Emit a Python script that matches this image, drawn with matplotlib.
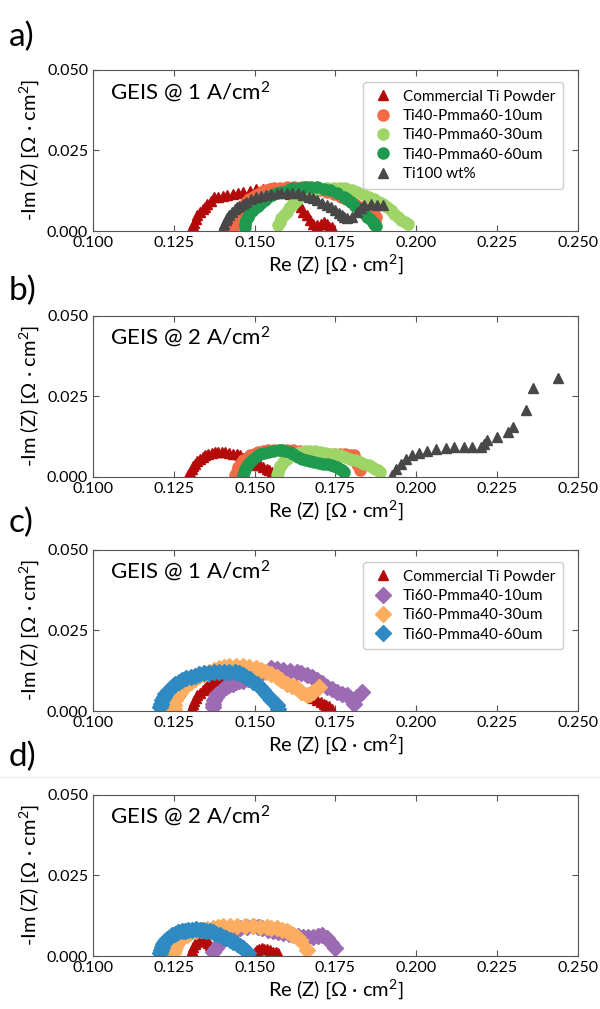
import matplotlib
matplotlib.use("Agg")
import matplotlib.pyplot as plt
from matplotlib.lines import Line2D

plt.rcParams['font.family'] = ['Lato', 'DejaVu Sans']
plt.rcParams['mathtext.fontset'] = 'custom'
plt.rcParams['mathtext.rm'] = 'Lato'
plt.rcParams['mathtext.it'] = 'Lato'

# ---- panel a: GEIS @ 1 A/cm2, Ti40-Pmma60 series ----
a_com_x = [0.1302, 0.1308, 0.1313, 0.1318, 0.1323, 0.1330, 0.1339, 0.1346, 0.1354, 0.1364, 0.1375, 0.1388,
           0.1401, 0.1416, 0.1432, 0.1448, 0.1464, 0.1485, 0.1505, 0.1527, 0.1547, 0.1568, 0.1590, 0.1610,
           0.1630, 0.1645, 0.1651, 0.1661, 0.1672, 0.1682, 0.1693, 0.1704, 0.1714, 0.1724, 0.1730, 0.1740]
a_com_y = [0.0007, 0.0016, 0.0026, 0.0038, 0.0049, 0.0058, 0.0068, 0.0076, 0.0083, 0.0094, 0.0104, 0.0107,
           0.0110, 0.0113, 0.0115, 0.0118, 0.0120, 0.0125, 0.0130, 0.0131, 0.0132, 0.0130, 0.0125, 0.0115,
           0.0100, 0.0075, 0.0059, 0.0049, 0.0033, 0.0023, 0.0018, 0.0022, 0.0028, 0.0023, 0.0013, 0.0013]
a_10_x = [0.1432, 0.1435, 0.1438, 0.1441, 0.1445, 0.1451, 0.1458, 0.1466, 0.1474, 0.1484, 0.1495, 0.1505,
          0.1516, 0.1526, 0.1536, 0.1548, 0.1560, 0.1580, 0.1600, 0.1623, 0.1646, 0.1663, 0.1680, 0.1702,
          0.1724, 0.1745, 0.1766, 0.1782, 0.1797, 0.1812, 0.1828, 0.1844, 0.1860, 0.1868, 0.1875, 0.1872, 0.1870]
a_10_y = [0.0007, 0.0018, 0.0028, 0.0038, 0.0049, 0.0060, 0.0070, 0.0081, 0.0091, 0.0099, 0.0106, 0.0113,
          0.0119, 0.0123, 0.0127, 0.0130, 0.0132, 0.0134, 0.0136, 0.0137, 0.0138, 0.0135, 0.0132, 0.0127,
          0.0122, 0.0114, 0.0106, 0.0099, 0.0091, 0.0083, 0.0075, 0.0067, 0.0059, 0.0052, 0.0044, 0.0034, 0.0023]
a_30_x = [0.1573, 0.1578, 0.1583, 0.1591, 0.1599, 0.1607, 0.1615, 0.1623, 0.1630, 0.1638, 0.1646, 0.1659,
          0.1672, 0.1688, 0.1703, 0.1724, 0.1745, 0.1763, 0.1781, 0.1800, 0.1818, 0.1836, 0.1854, 0.1870,
          0.1885, 0.1898, 0.1911, 0.1922, 0.1932, 0.1943, 0.1953, 0.1964, 0.1974]
a_30_y = [0.0018, 0.0029, 0.0039, 0.0049, 0.0059, 0.0070, 0.0080, 0.0088, 0.0096, 0.0104, 0.0111, 0.0117,
          0.0122, 0.0127, 0.0132, 0.0133, 0.0132, 0.0133, 0.0132, 0.0127, 0.0122, 0.0114, 0.0106, 0.0099,
          0.0091, 0.0083, 0.0075, 0.0065, 0.0054, 0.0044, 0.0035, 0.0028, 0.0021]
a_60_x = [0.1469, 0.1471, 0.1474, 0.1479, 0.1484, 0.1492, 0.1500, 0.1510, 0.1521, 0.1531, 0.1542, 0.1555,
          0.1568, 0.1583, 0.1599, 0.1610, 0.1620, 0.1638, 0.1656, 0.1675, 0.1693, 0.1714, 0.1734, 0.1755,
          0.1776, 0.1787, 0.1797, 0.1812, 0.1828, 0.1839, 0.1849, 0.1857, 0.1865, 0.1870, 0.1875]
a_60_y = [0.0013, 0.0023, 0.0033, 0.0043, 0.0052, 0.0061, 0.0070, 0.0079, 0.0088, 0.0096, 0.0104, 0.0111,
          0.0117, 0.0121, 0.0125, 0.0129, 0.0132, 0.0134, 0.0135, 0.0135, 0.0135, 0.0131, 0.0127, 0.0117,
          0.0106, 0.0099, 0.0091, 0.0078, 0.0065, 0.0055, 0.0044, 0.0036, 0.0028, 0.0022, 0.0016]
a_ti_x = [0.1401, 0.1405, 0.1410, 0.1416, 0.1422, 0.1430, 0.1438, 0.1445, 0.1453, 0.1463, 0.1474, 0.1490,
          0.1505, 0.1520, 0.1536, 0.1552, 0.1568, 0.1583, 0.1599, 0.1617, 0.1635, 0.1651, 0.1667, 0.1680,
          0.1693, 0.1708, 0.1724, 0.1737, 0.1750, 0.1760, 0.1770, 0.1778, 0.1786, 0.1802, 0.1818, 0.1829,
          0.1839, 0.1860, 0.1880, 0.1896]
a_ti_y = [0.0013, 0.0023, 0.0033, 0.0041, 0.0049, 0.0058, 0.0067, 0.0073, 0.0078, 0.0085, 0.0091, 0.0098,
          0.0104, 0.0108, 0.0111, 0.0114, 0.0117, 0.0118, 0.0119, 0.0119, 0.0119, 0.0113, 0.0106, 0.0101,
          0.0096, 0.0088, 0.0080, 0.0073, 0.0065, 0.0057, 0.0049, 0.0044, 0.0039, 0.0044, 0.0059, 0.0070,
          0.0080, 0.0085, 0.0080, 0.0080]

# ---- panel b: GEIS @ 2 A/cm2, Ti40-Pmma60 series ----
b_com_x = [0.1295, 0.1300, 0.1305, 0.1310, 0.1316, 0.1323, 0.1331, 0.1339, 0.1347, 0.1357, 0.1367, 0.1378,
           0.1388, 0.1398, 0.1409, 0.1421, 0.1434, 0.1445, 0.1455, 0.1465, 0.1475, 0.1488, 0.1500, 0.1508,
           0.1517, 0.1527, 0.1538, 0.1546, 0.1553]
b_com_y = [0.0005, 0.0016, 0.0026, 0.0034, 0.0041, 0.0049, 0.0057, 0.0062, 0.0067, 0.0071, 0.0074, 0.0076,
           0.0077, 0.0077, 0.0077, 0.0075, 0.0072, 0.0070, 0.0067, 0.0060, 0.0052, 0.0046, 0.0040, 0.0038,
           0.0036, 0.0031, 0.0026, 0.0020, 0.0015]
b_10_x = [0.1440, 0.1445, 0.1450, 0.1457, 0.1465, 0.1475, 0.1486, 0.1499, 0.1512, 0.1527, 0.1543, 0.1561,
          0.1579, 0.1600, 0.1620, 0.1641, 0.1662, 0.1683, 0.1703, 0.1724, 0.1745, 0.1763, 0.1781, 0.1794,
          0.1807, 0.1812, 0.1817, 0.1822, 0.1827]
b_10_y = [0.0005, 0.0018, 0.0031, 0.0042, 0.0052, 0.0060, 0.0067, 0.0072, 0.0077, 0.0080, 0.0083, 0.0084,
          0.0085, 0.0084, 0.0083, 0.0080, 0.0077, 0.0074, 0.0072, 0.0071, 0.0070, 0.0070, 0.0070, 0.0069,
          0.0067, 0.0054, 0.0041, 0.0031, 0.0021]
b_30_x = [0.1569, 0.1571, 0.1574, 0.1579, 0.1584, 0.1592, 0.1600, 0.1610, 0.1620, 0.1633, 0.1646, 0.1659,
          0.1672, 0.1688, 0.1703, 0.1719, 0.1734, 0.1750, 0.1765, 0.1781, 0.1796, 0.1812, 0.1827, 0.1840,
          0.1853, 0.1864, 0.1874, 0.1882, 0.1889]
b_30_y = [0.0005, 0.0016, 0.0026, 0.0034, 0.0041, 0.0049, 0.0057, 0.0064, 0.0070, 0.0074, 0.0077, 0.0079,
          0.0081, 0.0079, 0.0077, 0.0075, 0.0072, 0.0070, 0.0067, 0.0062, 0.0057, 0.0052, 0.0046, 0.0041,
          0.0036, 0.0031, 0.0026, 0.0021, 0.0015]
b_60_x = [0.1465, 0.1467, 0.1470, 0.1475, 0.1481, 0.1488, 0.1496, 0.1506, 0.1517, 0.1530, 0.1543, 0.1558,
          0.1574, 0.1585, 0.1595, 0.1608, 0.1620, 0.1633, 0.1646, 0.1659, 0.1672, 0.1685, 0.1698, 0.1711,
          0.1724, 0.1735, 0.1745, 0.1755, 0.1765, 0.1771, 0.1776]
b_60_y = [0.0005, 0.0016, 0.0026, 0.0034, 0.0041, 0.0049, 0.0057, 0.0064, 0.0070, 0.0074, 0.0077, 0.0080,
          0.0083, 0.0082, 0.0081, 0.0076, 0.0070, 0.0063, 0.0057, 0.0053, 0.0050, 0.0046, 0.0043, 0.0041,
          0.0039, 0.0036, 0.0033, 0.0030, 0.0026, 0.0020, 0.0015]
b_ti_x = [0.1926, 0.1936, 0.1952, 0.1967, 0.1988, 0.2008, 0.2034, 0.2060, 0.2091, 0.2117, 0.2148,
          0.2174, 0.2200, 0.2210, 0.2220, 0.2251, 0.2283, 0.2298, 0.2340, 0.2360, 0.2440]
b_ti_y = [0.0005, 0.0026, 0.0041, 0.0057, 0.0067, 0.0074, 0.0081, 0.0087, 0.0091, 0.0093, 0.0093,
          0.0093, 0.0093, 0.0101, 0.0116, 0.0124, 0.0139, 0.0155, 0.0207, 0.0274, 0.0308]

# ---- panel c: GEIS @ 1 A/cm2, Ti60-Pmma40 series ----
c_com_x = [0.1307, 0.1310, 0.1313, 0.1318, 0.1323, 0.1331, 0.1339, 0.1346, 0.1354, 0.1364, 0.1375, 0.1385,
           0.1396, 0.1408, 0.1420, 0.1590, 0.1600, 0.1610, 0.1620, 0.1628, 0.1635, 0.1643, 0.1651, 0.1659,
           0.1667, 0.1680, 0.1693, 0.1704, 0.1714, 0.1722, 0.1729, 0.1740]
c_com_y = [0.0013, 0.0022, 0.0031, 0.0040, 0.0049, 0.0057, 0.0065, 0.0072, 0.0078, 0.0085, 0.0091, 0.0095,
           0.0098, 0.0099, 0.0100, 0.0100, 0.0095, 0.0090, 0.0085, 0.0080, 0.0075, 0.0067, 0.0059, 0.0054,
           0.0049, 0.0041, 0.0033, 0.0028, 0.0023, 0.0019, 0.0015, 0.0007]
c_10_x = [0.1370, 0.1372, 0.1375, 0.1380, 0.1385, 0.1393, 0.1401, 0.1411, 0.1422, 0.1432, 0.1443, 0.1453,
          0.1464, 0.1480, 0.1500, 0.1525, 0.1552, 0.1570, 0.1589, 0.1610, 0.1630, 0.1645, 0.1661, 0.1677,
          0.1693, 0.1708, 0.1724, 0.1740, 0.1755, 0.1770, 0.1786, 0.1794, 0.1802, 0.1807, 0.1818, 0.1833]
c_10_y = [0.0013, 0.0023, 0.0033, 0.0043, 0.0052, 0.0060, 0.0068, 0.0074, 0.0080, 0.0085, 0.0089, 0.0092,
          0.0094, 0.0100, 0.0110, 0.0122, 0.0132, 0.0130, 0.0127, 0.0125, 0.0122, 0.0117, 0.0111, 0.0104,
          0.0096, 0.0086, 0.0075, 0.0067, 0.0059, 0.0054, 0.0049, 0.0041, 0.0033, 0.0023, 0.0044, 0.0059]
c_30_x = [0.1250, 0.1252, 0.1255, 0.1260, 0.1266, 0.1273, 0.1281, 0.1291, 0.1302, 0.1315, 0.1328, 0.1343,
          0.1359, 0.1375, 0.1391, 0.1406, 0.1422, 0.1443, 0.1464, 0.1484, 0.1505, 0.1520, 0.1536, 0.1552,
          0.1568, 0.1583, 0.1599, 0.1615, 0.1630, 0.1645, 0.1661, 0.1672, 0.1682, 0.1698]
c_30_y = [0.0007, 0.0020, 0.0033, 0.0044, 0.0054, 0.0064, 0.0073, 0.0082, 0.0091, 0.0100, 0.0108, 0.0115,
          0.0122, 0.0127, 0.0132, 0.0135, 0.0138, 0.0139, 0.0140, 0.0136, 0.0132, 0.0127, 0.0122, 0.0114,
          0.0106, 0.0096, 0.0085, 0.0078, 0.0070, 0.0060, 0.0049, 0.0054, 0.0059, 0.0075]
c_60_x = [0.1208, 0.1210, 0.1214, 0.1219, 0.1224, 0.1232, 0.1240, 0.1247, 0.1255, 0.1265, 0.1276, 0.1289,
          0.1302, 0.1315, 0.1328, 0.1343, 0.1359, 0.1375, 0.1391, 0.1406, 0.1422, 0.1438, 0.1453, 0.1464,
          0.1474, 0.1485, 0.1495, 0.1506, 0.1516, 0.1526, 0.1536, 0.1544, 0.1552, 0.1560, 0.1568, 0.1573]
c_60_y = [0.0013, 0.0023, 0.0033, 0.0043, 0.0052, 0.0061, 0.0070, 0.0077, 0.0083, 0.0090, 0.0096, 0.0101,
          0.0106, 0.0110, 0.0114, 0.0117, 0.0119, 0.0121, 0.0122, 0.0122, 0.0122, 0.0120, 0.0117, 0.0112,
          0.0106, 0.0099, 0.0091, 0.0083, 0.0075, 0.0065, 0.0054, 0.0045, 0.0035, 0.0027, 0.0018, 0.0007]

# ---- panel d: GEIS @ 2 A/cm2, Ti60-Pmma40 series ----
d_com_x = [0.1305, 0.1307, 0.1310, 0.1315, 0.1320, 0.1327, 0.1335, 0.1343, 0.1350, 0.1356, 0.1362, 0.1366,
           0.1370, 0.1500, 0.1506, 0.1514, 0.1522, 0.1530, 0.1537, 0.1548, 0.1558, 0.1566, 0.1573]
d_com_y = [0.0008, 0.0018, 0.0029, 0.0036, 0.0042, 0.0045, 0.0047, 0.0046, 0.0045, 0.0040, 0.0035, 0.0028,
           0.0020, 0.0012, 0.0019, 0.0022, 0.0024, 0.0023, 0.0021, 0.0018, 0.0014, 0.0011, 0.0008]
d_10_x = [0.1372, 0.1380, 0.1390, 0.1400, 0.1415, 0.1430, 0.1443, 0.1455, 0.1475, 0.1496, 0.1509, 0.1522,
          0.1540, 0.1558, 0.1573, 0.1589, 0.1605, 0.1620, 0.1635, 0.1651, 0.1666, 0.1682, 0.1695, 0.1708,
          0.1723, 0.1736, 0.1749]
d_10_y = [0.0014, 0.0026, 0.0038, 0.0050, 0.0063, 0.0075, 0.0081, 0.0086, 0.0089, 0.0092, 0.0089, 0.0086,
          0.0082, 0.0079, 0.0075, 0.0071, 0.0068, 0.0066, 0.0063, 0.0060, 0.0060, 0.0060, 0.0063, 0.0066,
          0.0055, 0.0040, 0.0024]
d_30_x = [0.1248, 0.1250, 0.1253, 0.1258, 0.1263, 0.1271, 0.1279, 0.1290, 0.1300, 0.1318, 0.1335, 0.1354,
          0.1372, 0.1388, 0.1403, 0.1424, 0.1444, 0.1470, 0.1496, 0.1516, 0.1537, 0.1552, 0.1568, 0.1584,
          0.1599, 0.1610, 0.1620, 0.1631, 0.1641, 0.1661]
d_30_y = [0.0008, 0.0018, 0.0029, 0.0037, 0.0045, 0.0053, 0.0060, 0.0066, 0.0071, 0.0076, 0.0080, 0.0083,
          0.0086, 0.0089, 0.0092, 0.0093, 0.0094, 0.0093, 0.0092, 0.0091, 0.0090, 0.0088, 0.0086, 0.0081,
          0.0076, 0.0071, 0.0066, 0.0058, 0.0050, 0.0019]
d_60_x = [0.1207, 0.1209, 0.1212, 0.1217, 0.1222, 0.1230, 0.1238, 0.1245, 0.1253, 0.1263, 0.1274, 0.1284,
          0.1294, 0.1307, 0.1320, 0.1330, 0.1341, 0.1351, 0.1362, 0.1372, 0.1382, 0.1392, 0.1403, 0.1413,
          0.1424, 0.1434, 0.1444, 0.1455, 0.1465, 0.1472, 0.1480]
d_60_y = [0.0008, 0.0018, 0.0029, 0.0038, 0.0048, 0.0054, 0.0060, 0.0065, 0.0069, 0.0073, 0.0076, 0.0079,
          0.0081, 0.0082, 0.0083, 0.0082, 0.0081, 0.0079, 0.0076, 0.0073, 0.0069, 0.0065, 0.0060, 0.0055,
          0.0050, 0.0044, 0.0038, 0.0031, 0.0024, 0.0017, 0.0010]

labels_a = ['Commercial Ti Powder', 'Ti40-Pmma60-10um', 'Ti40-Pmma60-30um', 'Ti40-Pmma60-60um', 'Ti100 wt%']
labels_c = ['Commercial Ti Powder', 'Ti60-Pmma40-10um', 'Ti60-Pmma40-30um', 'Ti60-Pmma40-60um']
colors_a = ['#b50a0a', '#f26b45', '#9fd466', '#1e9a4e', '#484848']
markers_a = ['^', 'o', 'o', 'o', '^']
colors_c = ['#b50a0a', '#9c6bb3', '#fdad5f', '#2f8ac4']
markers_c = ['^', 'D', 'D', 'D']
msize = {'^': 7.5, 'o': 8, 'D': 8}

panels = [
    ('a)', 'GEIS @ 1 A/cm$^2$', [(a_com_x, a_com_y), (a_10_x, a_10_y), (a_30_x, a_30_y), (a_60_x, a_60_y), (a_ti_x, a_ti_y)],
     labels_a, colors_a, markers_a, True),
    ('b)', 'GEIS @ 2 A/cm$^2$', [(b_com_x, b_com_y), (b_10_x, b_10_y), (b_30_x, b_30_y), (b_60_x, b_60_y), (b_ti_x, b_ti_y)],
     labels_a, colors_a, markers_a, False),
    ('c)', 'GEIS @ 1 A/cm$^2$', [(c_com_x, c_com_y), (c_10_x, c_10_y), (c_30_x, c_30_y), (c_60_x, c_60_y)],
     labels_c, colors_c, markers_c, True),
    ('d)', 'GEIS @ 2 A/cm$^2$', [(d_com_x, d_com_y), (d_10_x, d_10_y), (d_30_x, d_30_y), (d_60_x, d_60_y)],
     labels_c, colors_c, markers_c, False),
]

fig = plt.figure(figsize=(6, 10.09), dpi=100)
bottoms = [0.771, 0.5273, 0.2953, 0.0525]
letter_y = [0.963, 0.712, 0.482, 0.250]

# faint seam line above panel d
fig.add_artist(Line2D([0, 1], [0.2300, 0.2300], transform=fig.transFigure, color='#ececec', lw=1))

for (letter, title, series, labels, colors, markers, show_leg), b, ly in zip(panels, bottoms, letter_y):
    ax = fig.add_axes([0.155, b, 0.808, 0.16])
    for (x, y), lab, c, m in zip(series, labels, colors, markers):
        ax.plot(x, y, linestyle='none', marker=m, color=c, markersize=msize[m], label=lab)
    ax.set_xlim(0.1, 0.25)
    ax.set_ylim(0.0, 0.05)
    ax.set_xticks([0.100, 0.125, 0.150, 0.175, 0.200, 0.225, 0.250])
    ax.set_yticks([0.000, 0.025, 0.050])
    ax.xaxis.set_major_formatter(matplotlib.ticker.FormatStrFormatter('%.3f'))
    ax.yaxis.set_major_formatter(matplotlib.ticker.FormatStrFormatter('%.3f'))
    ax.tick_params(direction='in', top=True, right=True, labelsize=11.5, color='#555555', length=4)
    for s in ax.spines.values():
        s.set_color('#555555')
    ax.set_xlabel('Re (Z) [Ω · cm$^2$]', fontsize=14.5, labelpad=2)
    ax.set_ylabel('-Im (Z) [Ω · cm$^2$]', fontsize=14.5, labelpad=4)
    ax.text(0.035, 0.82, title, transform=ax.transAxes, fontsize=16)
    if show_leg:
        ax.legend(loc='upper right', fontsize=11, frameon=True, handletextpad=0.5, handlelength=1.6,
                  borderpad=0.5, labelspacing=0.35, framealpha=1, edgecolor='#cccccc',
                  bbox_to_anchor=(0.985, 0.97))
    fig.text(0.015, ly, letter, fontsize=24, va='center')

fig.savefig('out.png', dpi=100)
